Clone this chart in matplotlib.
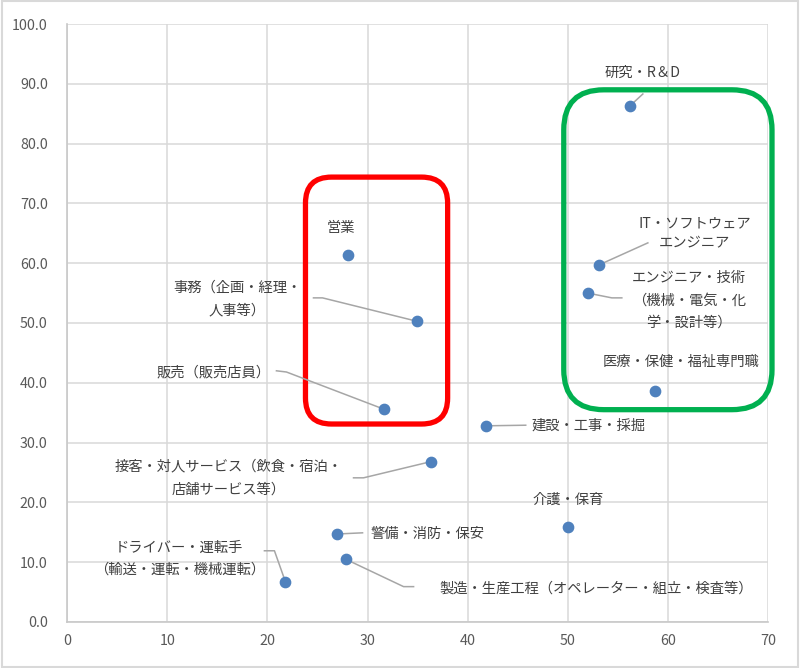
import matplotlib
matplotlib.use("Agg")
import matplotlib.pyplot as plt
from matplotlib.patches import FancyBboxPatch, Rectangle
from matplotlib.ticker import FormatStrFormatter, MultipleLocator

plt.rcParams["font.family"] = ["Noto Sans CJK JP", "DejaVu Sans"]

# ── Data ───────────────────────────────────────────────────────────────────────
names = [
    "研究・R＆D",
    "IT・ソフトウェア\nエンジニア",
    "エンジニア・技術\n（機械・電気・化\n学・設計等）",
    "医療・保健・福祉専門職",
    "営業",
    "事務（企画・経理・\n人事等）",
    "販売（販売店員）",
    "建設・工事・採掘",
    "接客・対人サービス（飲食・宿泊・\n店舗サービス等）",
    "介護・保育",
    "警備・消防・保安",
    "製造・生産工程（オペレーター・組立・検査等）",
    "ドライバー・運転手\n（輸送・運転・機械運転）",
]
x_vals = [56.2, 53.1, 52.0, 58.7, 28.0, 34.9, 31.6, 41.8, 36.3, 50.0, 26.9, 27.8, 21.8]
y_vals = [86.3, 59.7, 55.0, 38.6, 61.4, 50.3, 35.6, 32.8, 26.8, 15.9, 14.7, 10.5, 6.7]

# ── Layout: label centres, leader-line bends, line spacing ────────────────────
label_pos = [
    (57.5, 91.8), (62.7, 65.0), (62.1, 53.8), (61.3, 43.5), (27.3, 65.9),
    (17.0, 54.0), (14.6, 41.8), (52.1, 32.8), (16.1, 24.0), (50.0, 20.4),
    (36.0, 14.7), (52.8, 5.5), (11.2, 10.6),
]
leaders = [
    [(57.5, 88.3)],
    [(58.0, 63.4)],
    [(54.4, 54.2), (55.4, 54.2)],
    None,
    None,
    [(25.5, 54.2), (24.6, 54.2)],
    [(21.9, 41.8), (20.9, 42.0)],
    [(45.8, 32.9)],
    [(29.6, 24.1), (28.6, 24.1)],
    None,
    [(29.5, 14.9)],
    [(33.6, 5.9), (34.6, 5.9)],
    [(20.7, 11.9), (19.7, 11.9)],
]
spacing = [1.2, 1.55, 1.8, 1.2, 1.2, 1.85, 1.2, 1.2, 1.85, 1.2, 1.2, 1.2, 1.7]

POINT = "#4f81bd"
GRID = "#d9d9d9"
TEXT = "#404040"

fig = plt.figure(figsize=(8, 6.68), dpi=100)
ax = fig.add_axes([0.084, 0.069, 0.876, 0.895])

for xv, yv, lead in zip(x_vals, y_vals, leaders):
    if lead:
        xs = [xv] + [p[0] for p in lead]
        ys = [yv] + [p[1] for p in lead]
        ax.plot(xs, ys, color="#a6a6a6", lw=1.1, zorder=2, clip_on=False)

ax.scatter(x_vals, y_vals, s=55, color=POINT, zorder=3, clip_on=False)

for name, (tx, ty), ls in zip(names, label_pos, spacing):
    ax.text(tx, ty, name, ha="center", va="center", multialignment="center",
            fontsize=10.3, color=TEXT, linespacing=ls, zorder=4)

# group frames (rounded rectangles)
aspect = 10.01 / 5.98
red = FancyBboxPatch((23.8, 33.1), 14.2, 41.3,
                     boxstyle="round,pad=0,rounding_size=2.6",
                     mutation_aspect=aspect, fill=False, ec="#ff0000", lw=3.8,
                     zorder=1, clip_on=False)
green = FancyBboxPatch((49.6, 35.5), 20.8, 53.5,
                       boxstyle="round,pad=0,rounding_size=4.0",
                       mutation_aspect=aspect, fill=False, ec="#00b050", lw=3.8,
                       zorder=1, clip_on=False)
ax.add_patch(red)
ax.add_patch(green)

ax.set_xlim(0, 70)
ax.set_ylim(0, 100)
ax.xaxis.set_major_locator(MultipleLocator(10))
ax.yaxis.set_major_locator(MultipleLocator(10))
ax.yaxis.set_major_formatter(FormatStrFormatter("%.1f"))
ax.grid(True, color=GRID, lw=1.1)
ax.set_axisbelow(True)
for side in ["top", "right"]:
    ax.spines[side].set_visible(False)
for side in ["left", "bottom"]:
    ax.spines[side].set_color("#c8c8c8")
    ax.spines[side].set_linewidth(1.2)
ax.tick_params(length=0, labelsize=10.3, labelcolor="#595959")
ax.tick_params(axis="y", pad=14)
ax.tick_params(axis="x", pad=9)

# outer chart border
fig.patches.append(Rectangle((0.002, 0.002), 0.996, 0.996, transform=fig.transFigure,
                             fill=False, ec=GRID, lw=1.5))

fig.savefig("out.png", dpi=100)
